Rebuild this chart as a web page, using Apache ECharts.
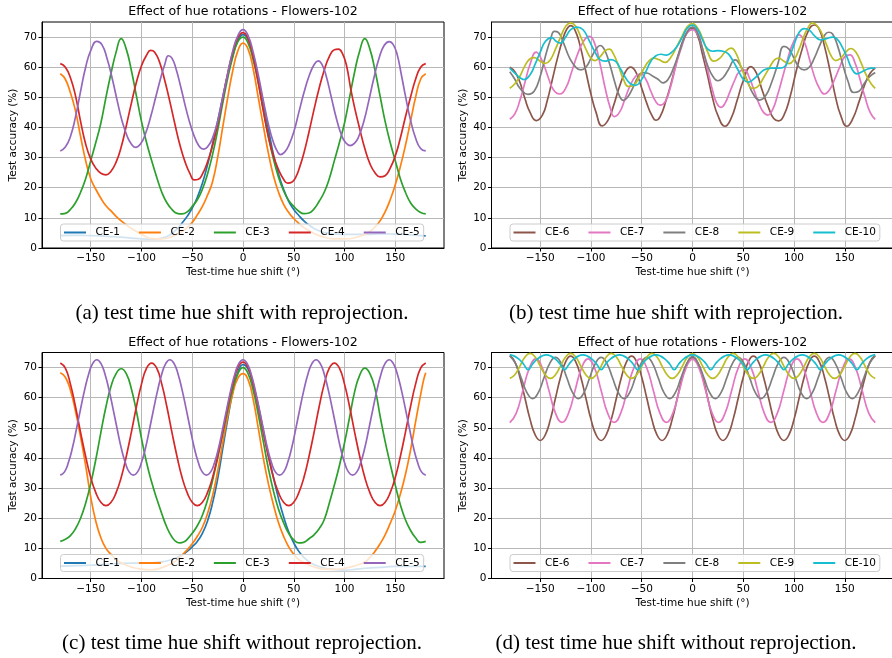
<!DOCTYPE html>
<html>
<head>
<meta charset="utf-8">
<title>Effect of hue rotations - Flowers-102</title>
<script src="https://cdn.jsdelivr.net/npm/echarts@6/dist/echarts.min.js"></script>
<style>
  html, body { margin: 0; padding: 0; background: #fff; }
  #chart { width: 892px; height: 658px; }
</style>
</head>
<body>
<div id="chart"></div>
<script>
// axis ticks and legend names
const hueTicks = [-150, -100, -50, 0, 50, 100, 150];
const accTicks = [0, 10, 20, 30, 40, 50, 60, 70];
const namesLeft = ['CE-1', 'CE-2', 'CE-3', 'CE-4', 'CE-5'];
const namesRight = ['CE-6', 'CE-7', 'CE-8', 'CE-9', 'CE-10'];
const panelTitle = 'Effect of hue rotations - Flowers-102';
const captions = [
  '(a) test time hue shift with reprojection.',
  '(b) test time hue shift with reprojection.',
  '(c) test time hue shift without reprojection.',
  '(d) test time hue shift without reprojection.'
];

// (a) with reprojection, CE-1..CE-5 : [hue shift (deg), accuracy (%)]
const aCE1 = [[-180,4.1],[-170,4.2],[-160,4.2],[-150,4.1],[-140,4.0],[-130,3.8],[-120,3.6],[-110,3.3],[-100,3.0],[-90,2.9],[-80,3.3],[-75,3.8],[-70,4.8],[-65,6.3],[-60,8.3],[-55,10.5],[-50,13.2],[-45,16.8],[-40,21.5],[-35,27.5],[-30,34.5],[-25,42],[-20,50],[-15,57.5],[-10,64],[-5,68.8],[0,70.8],[5,69.2],[10,64],[15,56.5],[20,48],[25,39.5],[30,31],[35,24.5],[40,19.5],[45,15.5],[50,12.8],[55,10.8],[60,9],[65,7.6],[70,6.5],[75,5.7],[80,5.1],[90,4.7],[100,4.5],[110,4.5],[120,4.5],[130,4.6],[140,4.7],[150,4.6],[160,4.5],[170,4.2],[180,4.0]];
const aCE2 = [[-180,57.8],[-175,56],[-170,51.5],[-165,45.5],[-160,37],[-155,29],[-150,23],[-145,19.5],[-140,16.5],[-135,14],[-130,12.3],[-125,10.5],[-120,9],[-115,7.7],[-110,6.5],[-100,4.6],[-90,3.1],[-80,3],[-70,3.8],[-60,5.5],[-55,6.8],[-50,8.5],[-45,11],[-40,13.8],[-35,17.5],[-30,22],[-25,30],[-20,40],[-15,50],[-10,59],[-5,65.5],[0,68],[5,66],[10,59.5],[15,50],[20,40.5],[25,31.5],[30,24],[35,18.5],[40,14.5],[45,11.8],[50,9.8],[55,8.2],[60,6.8],[70,4.8],[80,3.6],[90,3],[100,3],[110,3.4],[120,4.5],[125,5.5],[130,7],[135,9],[140,12],[145,16],[150,21],[155,27],[160,34],[165,42],[170,50],[175,56],[180,57.8]];
const aCE3 = [[-180,11.3],[-175,11.5],[-170,12.8],[-165,15],[-160,18.5],[-155,23],[-150,29],[-145,35],[-140,41.5],[-135,50],[-130,58],[-125,65],[-120,69.5],[-115,66],[-110,59],[-105,50.5],[-100,42],[-95,35],[-90,29],[-85,23.5],[-80,18.5],[-75,15],[-70,12.8],[-65,11.5],[-60,11.3],[-55,12],[-50,13.8],[-45,16],[-40,19.5],[-35,24.5],[-30,31],[-25,39],[-20,48],[-15,56.5],[-10,63.5],[-5,68.5],[0,70],[5,68],[10,62.5],[15,55],[20,46],[25,37],[30,29.5],[35,23.5],[40,19],[45,15.8],[50,13.8],[55,12.2],[60,11.4],[65,11.6],[70,13],[75,15.5],[80,18.5],[85,23],[90,29],[95,35],[100,41.5],[105,50],[110,58.5],[115,65.5],[120,69.5],[125,66],[130,59],[135,50.5],[140,42],[145,35],[150,29],[155,23],[160,18.5],[165,15],[170,13],[175,11.8],[180,11.3]];
const aCE4 = [[-180,61.2],[-175,60],[-170,56.5],[-165,50.5],[-160,42],[-155,34.5],[-150,29.5],[-145,26.5],[-140,24.8],[-135,24.3],[-130,25.5],[-125,28.5],[-120,33.5],[-115,40.5],[-110,48],[-105,55],[-100,60.5],[-95,64],[-91,65.6],[-87,65],[-82,61.5],[-77,55.5],[-72,48.5],[-67,41],[-62,34],[-57,28.5],[-52,24.5],[-48,22.6],[-44,22.8],[-40,24.5],[-35,28.5],[-30,34],[-25,41],[-20,49.5],[-15,58],[-10,65],[-5,69.8],[0,71.5],[5,69.5],[10,63.5],[15,55],[20,45.5],[25,37],[30,30.5],[35,26],[40,22.8],[44,21.5],[48,21.8],[52,23.5],[56,27],[60,31.5],[65,38.5],[70,46],[75,53],[80,59],[85,63.5],[90,65.8],[94,66],[98,64.5],[102,60.5],[106,53],[110,46.5],[115,39.5],[120,33],[125,28],[130,25],[135,23.6],[140,24],[145,26.5],[150,30.5],[155,36.5],[160,43.5],[165,50],[170,56],[175,60],[180,61.2]];
const aCE5 = [[-180,32.2],[-175,33.5],[-170,37],[-165,43.5],[-160,52],[-155,60],[-150,65.5],[-144,68.6],[-139,67.5],[-134,63],[-129,56.5],[-124,49],[-119,42],[-114,37],[-110,34.5],[-106,33.4],[-101,34.5],[-96,38],[-91,43.5],[-86,50],[-81,56.5],[-77,61],[-73.5,63.8],[-70,63],[-66,59.5],[-61,53],[-56,46],[-51,40],[-46,35.5],[-42,33.3],[-38.5,32.8],[-34,34],[-30,36.5],[-25,42],[-20,50],[-15,58],[-10,65.5],[-5,70.5],[0,72.5],[5,70.5],[10,65],[15,57.5],[20,49],[25,41],[30,35],[34,32],[37,31],[41,31.8],[45,34],[50,38.5],[55,45],[60,51.5],[65,57],[70,60.8],[74,62.1],[78,60.8],[82,57],[87,50],[92,43],[97,37.5],[101,35],[105.5,34],[110,34.8],[114,37],[119,42],[124,49],[129,56.5],[134,63],[139,67.2],[144,68.5],[148,67.5],[152,64],[156,57.5],[160,50.5],[165,42.5],[170,36.5],[175,33],[180,32.2]];

// (b) with reprojection, CE-6..CE-10
const bCE6 = [[-180,60],[-175,58.5],[-170,55],[-165,49.5],[-160,45],[-154,42.3],[-148,44],[-143,49],[-138,56],[-133,63],[-128,69],[-124,72.5],[-120,73.8],[-116,72.5],[-111,67.5],[-105,58.5],[-100,51],[-95,45],[-89,40.5],[-83,42.5],[-78,47],[-72,53.5],[-66,58.5],[-61,60],[-56,58.5],[-50,53],[-45,48],[-40,44],[-36,42.4],[-32,43.5],[-26,49],[-20,56],[-14,64],[-8,70],[-3,72.5],[0,72.8],[5,70.5],[10,64],[15,57],[20,49.5],[25,44],[32,40.4],[38,43],[44,49],[50,55.5],[57.5,60.2],[63,58],[69,52],[75,46.5],[80,43],[85,42.2],[90,44],[96,50],[102,58.5],[108,66],[114,72],[120,74],[125,72.5],[130,67],[136,58],[141,50],[146,44],[152,40.4],[158,43],[164,48.5],[170,54.5],[175,58],[180,59.7]];
const bCE7 = [[-180,42.7],[-175,44.5],[-170,49],[-165,55],[-160,61],[-154,65],[-148,62],[-142,56.5],[-137,52.5],[-131,51.1],[-125,53],[-119,58.5],[-113,64.5],[-107,68.8],[-101.6,70.2],[-96,67.5],[-91,61],[-86,53],[-81,46.5],[-77,43.6],[-72,45],[-67,49],[-62,53.5],[-56,57],[-51,57.8],[-46,56],[-41,52],[-36,48.5],[-32,47.4],[-27,48.5],[-22,53],[-16,61],[-10,67.5],[-5,71.5],[0,72.5],[5,71],[10,66],[15,59],[20,52],[24,48],[28,46.7],[32,48],[37,52],[42,56],[46,58.5],[51,59.1],[56,56.5],[61,52],[66,47.5],[70,45],[74,44.1],[79,46],[84,51],[89,57],[94,63],[99,68],[105,70.7],[110,68.5],[115,63],[120,57],[125,53],[130,51.1],[135,52.5],[140,56],[145,60],[150,63.5],[155,64.1],[160,61.5],[165,56],[170,50],[175,45],[180,42.7]];
const bCE8 = [[-180,58.5],[-175,56],[-170,53],[-162,51],[-156,52],[-150,57],[-145,63.5],[-140,69],[-136,71.9],[-132,71.5],[-127,68],[-121,63],[-115,60],[-110,59.1],[-105,60],[-100,63],[-95,66],[-91,67.2],[-87,66],[-82,61.5],[-77,55.5],[-72,50.5],[-68,49],[-64,50],[-59,53],[-54,56.5],[-49,58.2],[-44,58],[-39,57],[-34,56],[-29,54.8],[-24,56],[-19,59.5],[-13,65],[-7,70.5],[0,73.3],[5,71.5],[10,66],[15,60.5],[20,57],[25,55.5],[30,56.5],[35,59],[42,62.4],[48,60],[54,55.5],[60,51],[66,49.1],[72,50.5],[78,55],[84,61],[90,66.9],[95,66],[100,63],[105,60],[110,59.1],[115,60],[120,63],[125,67],[130,70.5],[134,71.6],[138,71],[143,67],[148,61],[153,55.5],[159,51.6],[164,52],[169,54.5],[175,57],[180,58.2]];
const bCE9 = [[-180,53],[-175,54.5],[-170,57],[-165,60.5],[-160,62.8],[-156,63.2],[-150,62],[-145,61.3],[-140,62.5],[-135,66],[-130,70],[-125,73.5],[-120,74.7],[-115,73.5],[-110,70],[-105,66],[-100,63],[-96,62.2],[-91,63.5],[-86,65.5],[-82,66],[-78,64.5],[-73,60.5],[-68,56],[-63,53.6],[-58,54],[-53,56.5],[-48,59.5],[-43,62],[-38,63],[-33,62.5],[-27,61.6],[-22,63],[-16,66.5],[-10,70.5],[-5,73.5],[0,74.5],[5,73],[10,69.5],[15,65],[21,62],[27,63],[32,65],[38,66.3],[43,64.5],[48,60],[53,56],[59,53],[64,53.5],[70,56.5],[76,60],[81,62.5],[85,63],[90,62],[95,61.2],[100,62.5],[105,66],[110,70.5],[115,73.8],[118,74.7],[122,74],[127,71.5],[132,67.5],[137,63.5],[141,62.2],[146,63],[151,65],[156,66.2],[161,65],[166,61.5],[171,57.5],[176,54.5],[180,53]];
const bCE10 = [[-180,59.7],[-175,58],[-170,56.5],[-166,55.9],[-160,57.5],[-155,61],[-150,65],[-145,68.5],[-139,69.8],[-134,68.5],[-130,68],[-125,70],[-120,72.5],[-114,73.3],[-108,72.5],[-102,69],[-96,65],[-91,62.5],[-86,62],[-81,62.5],[-76,62],[-71,59.5],[-66,56.5],[-61,54.5],[-56,54],[-51,55.5],[-46,58.5],[-41,62],[-36,63.8],[-31,64.3],[-26,64],[-21,64.8],[-16,66.5],[-10,70],[-5,73],[0,74],[5,72.5],[10,69],[15,66],[20,65.3],[25,65.5],[30,65.3],[35,64.5],[40,62],[45,59],[50,56],[55,55],[60,56],[65,57.5],[70,59],[77,59.7],[84,59.7],[90,60],[95,63],[100,67.5],[105,71.5],[110,72.8],[115,72.3],[120,70.5],[126,69.1],[132,69.5],[138,70],[142,69.5],[147,67],[152,63.5],[157,59.5],[162,57.8],[167,58.5],[172,59.3],[176,59.7],[180,59.7]];

// (c) without reprojection, CE-1..CE-5
const cCE1 = [[-180,4.1],[-170,4.2],[-160,4.3],[-150,4.4],[-140,4.6],[-130,4.8],[-120,5],[-110,5.1],[-100,5.1],[-90,5.2],[-80,5.5],[-75,5.8],[-70,6.3],[-65,7],[-60,7.8],[-55,9],[-50,10.5],[-45,12.3],[-40,15],[-35,19],[-30,25],[-25,33],[-20,43],[-15,53],[-10,62],[-5,68.5],[0,71],[5,69.5],[10,64.5],[15,57.5],[20,49],[25,41],[30,33.5],[35,26.5],[40,20.5],[45,15.5],[50,11.8],[55,9],[60,7],[65,5.6],[70,4.6],[80,3.5],[90,3],[100,2.8],[110,3],[120,3.4],[130,3.6],[140,3.8],[150,4],[160,4],[170,4],[180,4]];
const cCE2 = [[-180,68.3],[-175,66.8],[-170,62.5],[-165,55.5],[-160,47],[-155,37.5],[-150,27],[-145,19],[-140,13.5],[-135,10],[-130,8],[-125,6.3],[-120,5.2],[-110,3.8],[-100,3.1],[-90,2.9],[-80,3.6],[-70,5],[-65,6.2],[-60,7.8],[-55,9.5],[-50,11.5],[-45,14],[-40,17],[-35,21.5],[-30,27.5],[-25,35.5],[-20,45],[-15,54],[-10,61.5],[-5,66.5],[0,68],[5,66],[10,59.5],[15,50],[20,40],[25,31.5],[30,24.5],[35,18.5],[40,14],[45,10.5],[50,8],[55,6.3],[60,5.2],[70,3.8],[80,3.1],[90,3],[100,3.4],[110,4.2],[120,5.5],[125,7],[130,9],[135,11.5],[140,14.5],[145,18.3],[150,22.5],[155,28],[160,34.5],[165,42.5],[170,52],[175,61],[178,66],[180,68.3]];
const cCE3 = [[-180,12.3],[-175,13],[-170,14.2],[-165,16.5],[-160,20],[-155,25],[-150,31.5],[-145,39.5],[-140,48.5],[-135,57],[-130,63.8],[-125,68],[-120,69.6],[-115,68],[-110,63],[-105,55.5],[-100,46.5],[-95,38.5],[-90,32],[-85,26.5],[-80,21.5],[-75,17],[-70,13.8],[-65,12],[-62,11.8],[-58,12.2],[-55,13],[-50,15],[-45,17.5],[-40,21],[-35,26],[-30,32.5],[-25,40],[-20,48],[-15,56],[-10,63],[-5,68],[0,70],[5,68],[10,62.5],[15,54.5],[20,45.5],[25,36.5],[30,29],[35,23],[40,18.5],[45,15],[50,12.8],[55,11.8],[60,12],[65,13.2],[70,14.5],[75,16.5],[80,19.5],[85,25],[90,31],[95,37.5],[100,45],[105,53.5],[110,62],[115,67.5],[120,69.8],[125,68],[130,63],[135,54],[140,45.5],[145,38],[150,31],[155,24.5],[160,19.5],[165,16],[170,13.5],[175,12],[180,12.3]];
const cCE4 = [[-180,71.5],[-175,69.8],[-170,64.5],[-165,57],[-160,48.5],[-155,40.5],[-150,33.5],[-145,28.5],[-140,25.3],[-135,24.2],[-130,25.3],[-125,28.5],[-120,33.5],[-115,40.5],[-110,48.5],[-105,57],[-100,64.5],[-95,69.8],[-90,71.5],[-85,69.8],[-80,64.5],[-75,57],[-70,48.5],[-65,40.5],[-60,33.5],[-55,28.5],[-50,25.3],[-45,24.2],[-40,25.3],[-35,28.5],[-30,33.5],[-25,40.5],[-20,48.5],[-15,57],[-10,64.5],[-5,70],[0,71.8],[5,70],[10,64.5],[15,57],[20,48.5],[25,40.5],[30,33.5],[35,28.5],[40,25.3],[45,24.2],[50,25.3],[55,28.5],[60,33.5],[65,40.5],[70,48.5],[75,57],[80,64.5],[85,69.8],[90,71.5],[95,69.8],[100,64.5],[105,57],[110,48.5],[115,40.5],[120,33.5],[125,28.5],[130,25.3],[135,24.2],[140,25.3],[145,28.5],[150,33.5],[155,40.5],[160,48.5],[165,57],[170,64.5],[175,69.8],[180,71.5]];
const cCE5 = [[-180,34.3],[-176,35.3],[-172,38.5],[-168,43.4],[-164,49.7],[-160,56.3],[-156,62.6],[-152,67.9],[-148,71.4],[-144,72.6],[-140,71.4],[-136,67.9],[-132,62.6],[-128,56.3],[-124,49.7],[-120,43.4],[-116,38.5],[-112,35.3],[-108,34.3],[-104,35.3],[-100,38.5],[-96,43.4],[-92,49.7],[-88,56.3],[-84,62.6],[-80,67.9],[-76,71.4],[-72,72.6],[-68,71.4],[-64,67.9],[-60,62.6],[-56,56.3],[-52,49.7],[-48,43.4],[-44,38.5],[-40,35.3],[-36,34.3],[-32,35.3],[-28,38.5],[-24,43.4],[-20,49.7],[-16,56.3],[-12,62.6],[-8,67.9],[-4,71.4],[0,72.6],[4,71.4],[8,67.9],[12,62.6],[16,56.3],[20,49.7],[24,43.4],[28,38.5],[32,35.3],[36,34.3],[40,35.3],[44,38.5],[48,43.4],[52,49.7],[56,56.3],[60,62.6],[64,67.9],[68,71.4],[72,72.6],[76,71.4],[80,67.9],[84,62.6],[88,56.3],[92,49.7],[96,43.4],[100,38.5],[104,35.3],[108,34.3],[112,35.3],[116,38.5],[120,43.4],[124,49.7],[128,56.3],[132,62.6],[136,67.9],[140,71.4],[144,72.6],[148,71.4],[152,67.9],[156,62.6],[160,56.3],[164,49.7],[168,43.4],[172,38.5],[176,35.3],[180,34.3]];

// (d) without reprojection, CE-6..CE-10
const dCE6 = [[-180,74],[-175,71.9],[-170,66.8],[-165,59.8],[-160,52.8],[-155,47.7],[-150,45.8],[-145,47.7],[-140,52.8],[-135,59.8],[-130,66.8],[-125,71.9],[-120,73.8],[-115,71.9],[-110,66.8],[-105,59.8],[-100,52.8],[-95,47.7],[-90,45.8],[-85,47.7],[-80,52.8],[-75,59.8],[-70,66.8],[-65,71.9],[-60,73.8],[-55,71.9],[-50,66.8],[-45,59.8],[-40,52.8],[-35,47.7],[-30,45.8],[-25,47.7],[-20,52.8],[-15,59.8],[-10,66.8],[-5,71.6],[0,73.3],[5,71.6],[10,66.8],[15,59.8],[20,52.8],[25,47.7],[30,45.8],[35,47.7],[40,52.8],[45,59.8],[50,66.8],[55,71.9],[60,73.8],[65,71.9],[70,66.8],[75,59.8],[80,52.8],[85,47.7],[90,45.8],[95,47.7],[100,52.8],[105,59.8],[110,66.8],[115,71.9],[120,73.8],[125,71.9],[130,66.8],[135,59.8],[140,52.8],[145,47.7],[150,45.8],[155,47.7],[160,52.8],[165,59.8],[170,66.8],[175,71.9],[180,74]];
const dCE7 = [[-180,51.7],[-173.6,54.9],[-167.1,62.4],[-160.7,69.8],[-154.3,72.9],[-147.9,69.8],[-141.4,62.4],[-135,54.9],[-128.6,51.8],[-122.1,54.9],[-115.7,62.4],[-109.3,69.8],[-102.9,72.9],[-96.4,69.8],[-90,62.4],[-83.6,54.9],[-77.1,51.8],[-70.7,54.9],[-64.3,62.4],[-57.9,69.8],[-51.4,72.9],[-45,69.8],[-38.6,62.4],[-32.1,54.9],[-25.7,51.8],[-19.3,54.9],[-12.9,62.4],[-6.4,69.8],[0,72.8],[6.4,69.8],[12.9,62.4],[19.3,54.9],[25.7,51.8],[32.1,54.9],[38.6,62.4],[45,69.8],[51.4,72.9],[57.9,69.8],[64.3,62.4],[70.7,54.9],[77.1,51.8],[83.6,54.9],[90,62.4],[96.4,69.8],[102.9,72.9],[109.3,69.8],[115.7,62.4],[122.1,54.9],[128.6,51.8],[135,54.9],[141.4,62.4],[147.9,69.8],[154.3,72.9],[160.7,69.8],[167.1,62.4],[173.6,54.9],[180,51.7]];
const dCE8 = [[-180,73.9],[-174.4,71.4],[-168.8,66.6],[-163.1,61.7],[-157.5,59.7],[-151.9,61.7],[-146.3,66.6],[-140.6,71.4],[-135,73.4],[-129.4,71.4],[-123.8,66.6],[-118.1,61.7],[-112.5,59.7],[-106.9,61.7],[-101.3,66.6],[-95.6,71.4],[-90,73.4],[-84.4,71.4],[-78.8,66.6],[-73.1,61.7],[-67.5,59.7],[-61.9,61.7],[-56.3,66.6],[-50.6,71.4],[-45,73.4],[-39.4,71.4],[-33.8,66.6],[-28.1,61.7],[-22.5,59.7],[-16.9,61.7],[-11.3,66.6],[-5.6,71.4],[0,73.6],[5.6,71.4],[11.3,66.6],[16.9,61.7],[22.5,59.7],[28.1,61.7],[33.8,66.6],[39.4,71.4],[45,73.4],[50.6,71.4],[56.3,66.6],[61.9,61.7],[67.5,59.7],[73.1,61.7],[78.8,66.6],[84.4,71.4],[90,73.4],[95.6,71.4],[101.3,66.6],[106.9,61.7],[112.5,59.7],[118.1,61.7],[123.8,66.6],[129.4,71.4],[135,73.4],[140.6,71.4],[146.3,66.6],[151.9,61.7],[157.5,59.7],[163.1,61.7],[168.8,66.6],[174.4,71.4],[180,73.9]];
const dCE9 = [[-180,66.4],[-175,67.6],[-170,70.5],[-165,73.5],[-160,74.7],[-155,73.5],[-150,70.5],[-145,67.6],[-140,66.4],[-135,67.6],[-130,70.5],[-125,73.5],[-120,74.7],[-115,73.5],[-110,70.5],[-105,67.6],[-100,66.4],[-95,67.6],[-90,70.5],[-85,73.5],[-80,74.7],[-75,73.5],[-70,70.5],[-65,67.6],[-60,66.4],[-55,67.6],[-50,70.5],[-45,73.5],[-40,74.7],[-35,73.5],[-30,70.5],[-25,67.6],[-20,66.4],[-15,67.6],[-10,70.5],[-5,73.4],[0,74.6],[5,73.4],[10,70.5],[15,67.6],[20,66.4],[25,67.6],[30,70.5],[35,73.5],[40,74.7],[45,73.5],[50,70.5],[55,67.6],[60,66.4],[65,67.6],[70,70.5],[75,73.5],[80,74.7],[85,73.5],[90,70.5],[95,67.6],[100,66.4],[105,67.6],[110,70.5],[115,73.5],[120,74.7],[125,73.5],[130,70.5],[135,67.6],[140,66.4],[145,67.6],[150,70.5],[155,73.5],[160,74.7],[165,73.5],[170,70.5],[175,67.6],[180,66.4]];
const dCE10 = [[-180,74.3],[-175.5,73.8],[-171,72.8],[-166.5,71.2],[-162,69.3],[-157.5,71.2],[-153,72.8],[-148.5,73.8],[-144,74.2],[-139.5,73.8],[-135,72.8],[-130.5,71.2],[-126,69.3],[-121.5,71.2],[-117,72.8],[-112.5,73.8],[-108,74.2],[-103.5,73.8],[-99,72.8],[-94.5,71.2],[-90,69.3],[-85.5,71.2],[-81,72.8],[-76.5,73.8],[-72,74.2],[-67.5,73.8],[-63,72.8],[-58.5,71.2],[-54,69.3],[-49.5,71.2],[-45,72.8],[-40.5,73.8],[-36,74.2],[-31.5,73.8],[-27,72.8],[-22.5,71.2],[-18,69.3],[-13.5,71.2],[-9,72.8],[-4.5,73.8],[0,74.2],[4.5,73.8],[9,72.8],[13.5,71.2],[18,69.3],[22.5,71.2],[27,72.8],[31.5,73.8],[36,74.2],[40.5,73.8],[45,72.8],[49.5,71.2],[54,69.3],[58.5,71.2],[63,72.8],[67.5,73.8],[72,74.2],[76.5,73.8],[81,72.8],[85.5,71.2],[90,69.3],[94.5,71.2],[99,72.8],[103.5,73.8],[108,74.2],[112.5,73.8],[117,72.8],[121.5,71.2],[126,69.3],[130.5,71.2],[135,72.8],[139.5,73.8],[144,74.2],[148.5,73.8],[153,72.8],[157.5,71.2],[162,69.3],[166.5,71.2],[171,72.8],[175.5,73.8],[180,74.3]];

const colors = ['#1f77b4', '#ff7f0e', '#2ca02c', '#d62728', '#9467bd',
                '#8c564b', '#e377c2', '#7f7f7f', '#bcbd22', '#17becf'];

// panel boxes: (a) (b) on top, (c) (d) below
const panels = [
  { left: 42, top: 22, names: namesLeft, lines: [aCE1, aCE2, aCE3, aCE4, aCE5], c0: 0 },
  { left: 491.5, top: 22, names: namesRight, lines: [bCE6, bCE7, bCE8, bCE9, bCE10], c0: 5 },
  { left: 42, top: 352.5, names: namesLeft, lines: [cCE1, cCE2, cCE3, cCE4, cCE5], c0: 0 },
  { left: 491.5, top: 352.5, names: namesRight, lines: [dCE6, dCE7, dCE8, dCE9, dCE10], c0: 5 }
];
const plotW = 402, plotH = 226;
const sans = 'DejaVu Sans';
const minus = v => (v < 0 ? '\u2212' + (-v) : String(v));

const grid = [], xAxis = [], yAxis = [], legend = [], series = [], title = [];

panels.forEach((p, i) => {
  grid.push({
    left: p.left, top: p.top, width: plotW, height: plotH,
    show: true, borderColor: '#000', borderWidth: 1, backgroundColor: 'transparent',
    outerBoundsMode: 'none'
  });
  xAxis.push({
    gridIndex: i, type: 'value', min: -198, max: 198,
    name: 'Test-time hue shift (\u00b0)', nameLocation: 'middle', nameGap: 19,
    nameTextStyle: { fontFamily: sans, fontSize: 10.5, color: '#000' },
    axisLine: { show: true, onZero: false, lineStyle: { color: '#000', width: 1 } },
    axisTick: { show: true, inside: false, length: 3.5, customValues: hueTicks, lineStyle: { color: '#000' } },
    axisLabel: { customValues: hueTicks, margin: 5, formatter: minus,
                 fontFamily: sans, fontSize: 10.5, color: '#000' },
    splitLine: { show: true, lineStyle: { color: '#b8b8b8', width: 1 } }
  });
  yAxis.push({
    gridIndex: i, type: 'value', min: 0, max: 75,
    name: 'Test accuracy (%)', nameLocation: 'middle', nameGap: 23,
    nameTextStyle: { fontFamily: sans, fontSize: 10.5, color: '#000' },
    axisLine: { show: true, onZero: false, lineStyle: { color: '#000', width: 1 } },
    axisTick: { show: true, inside: false, length: 3.5, customValues: accTicks, lineStyle: { color: '#000' } },
    axisLabel: { customValues: accTicks, margin: 5, fontFamily: sans, fontSize: 10.5, color: '#000' },
    splitLine: { show: true, lineStyle: { color: '#b8b8b8', width: 1 } }
  });
  legend.push({
    data: p.names, left: p.left + 18.5, top: p.top + 202,
    icon: 'rect', itemWidth: 22, itemHeight: 2, itemGap: 19,
    padding: [3, 4, 3, 3.5], selectedMode: false,
    backgroundColor: 'rgba(255,255,255,0.8)', borderColor: '#cccccc', borderWidth: 1, borderRadius: 3,
    textStyle: { fontFamily: sans, fontSize: 10.5, color: '#000', padding: [0, 0, 0, 4.5] }
  });
  p.lines.forEach((d, k) => {
    series.push({
      name: p.names[k], type: 'line', xAxisIndex: i, yAxisIndex: i,
      data: d, symbol: 'none', smooth: 0.5,
      lineStyle: { color: colors[p.c0 + k], width: 1.7 },
      itemStyle: { color: colors[p.c0 + k] }
    });
  });
  title.push({
    text: panelTitle, left: p.left + plotW / 2, top: p.top - 10,
    textAlign: 'center', textVerticalAlign: 'middle', padding: 0,
    textStyle: { fontFamily: sans, fontSize: 12.6, fontWeight: 'normal', color: '#000' }
  });
});

// sub-figure captions under each panel
const capPos = [[242, 313], [676, 313], [242, 643], [676, 643]];
captions.forEach((t, i) => {
  title.push({
    text: t, left: capPos[i][0], top: capPos[i][1],
    textAlign: 'center', textVerticalAlign: 'middle', padding: 0,
    textStyle: { fontFamily: 'Liberation Serif', fontSize: 21, fontWeight: 'normal', color: '#000' }
  });
});

const chart = echarts.init(document.getElementById('chart'), null, { renderer: 'canvas' });
chart.setOption({
  animation: false,
  backgroundColor: '#fff',
  title, grid, xAxis, yAxis, legend, series
});
</script>
</body>
</html>
